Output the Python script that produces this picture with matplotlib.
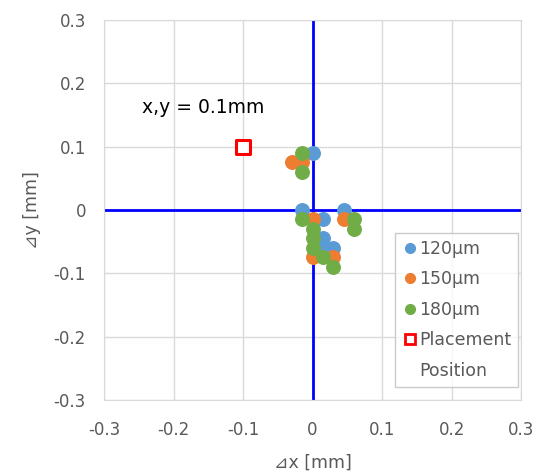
import numpy as np
import matplotlib.pyplot as plt
from matplotlib.lines import Line2D

plt.rcParams['font.family'] = ['DejaVu Sans', 'Noto Sans CJK JP']

# measured offsets [mm]
x_120 = [0, -0.015, 0.015, 0.045, 0.015, 0.015, 0.03]
y_120 = [0.09, 0, -0.015, 0, -0.045, -0.06, -0.06]

x_150 = [-0.03, -0.015, 0, 0.045, 0, 0.03]
y_150 = [0.075, 0.075, -0.015, -0.015, -0.075, -0.075]

x_180 = [-0.015, -0.015, -0.015, 0.06, 0.06, 0, 0, 0, 0.015, 0.03]
y_180 = [0.09, 0.06, -0.015, -0.015, -0.03, -0.03, -0.045, -0.06, -0.075, -0.09]

place_x = [-0.1]
place_y = [0.1]

ticks = [-0.3, -0.2, -0.1, 0, 0.1, 0.2, 0.3]
tick_labels = ['-0.3', '-0.2', '-0.1', '0', '0.1', '0.2', '0.3']

fig = plt.figure(figsize=(5.39, 4.76), dpi=100)
ax = fig.add_axes([0.193, 0.160, 0.774, 0.798])

ax.set_xlim(-0.3, 0.3)
ax.set_ylim(-0.3, 0.3)
ax.set_xticks(ticks)
ax.set_xticklabels(tick_labels)
ax.set_yticks(ticks)
ax.set_yticklabels(tick_labels)
ax.grid(True, color='#d9d9d9', linewidth=1)
ax.set_axisbelow(True)
for s in ax.spines.values():
    s.set_color('#d9d9d9')
ax.tick_params(length=0, labelsize=12, colors='#595959')
ax.tick_params(axis='x', pad=15)
ax.tick_params(axis='y', pad=13)

# zero lines
ax.axhline(0, color='#0000ff', linewidth=2, zorder=1.5)
ax.axvline(0, color='#0000ff', linewidth=2, zorder=1.5)

ax.scatter(x_120, y_120, s=95, color='#5b9bd5', zorder=3)
ax.scatter(x_150, y_150, s=95, color='#ed7d31', zorder=3)
ax.scatter(x_180, y_180, s=95, color='#70ad47', zorder=3)
ax.scatter(place_x, place_y, s=100, marker='s', facecolor='white', edgecolor='#ff0000',
           linewidth=2.2, zorder=3)

ax.text(-0.245, 0.161, 'x,y = 0.1mm', fontsize=13.5, color='black', va='center')

ax.set_xlabel('⊿x [mm]', fontsize=12.5, color='#595959', labelpad=11)
ax.set_ylabel('⊿y [mm]', fontsize=12.5, color='#595959', labelpad=9)

handles = [
    Line2D([], [], ls='', marker='o', ms=7, color='#5b9bd5'),
    Line2D([], [], ls='', marker='o', ms=7, color='#ed7d31'),
    Line2D([], [], ls='', marker='o', ms=7, color='#70ad47'),
    Line2D([], [], ls='', marker='s', ms=7, mfc='white', mec='#ff0000', mew=2),
    Line2D([], [], ls='', marker=''),
]
labels = ['120µm', '150µm', '180µm', 'Placement', 'Position']
leg = ax.legend(handles, labels, loc='lower right', bbox_to_anchor=(0.993, 0.034),
                fontsize=12.5, frameon=True, fancybox=False, edgecolor='#bfbfbf',
                handletextpad=0.1, borderpad=0.4, labelspacing=0.72, handlelength=0.9,
                borderaxespad=0)
for t in leg.get_texts():
    t.set_color('#595959')
leg.get_frame().set_linewidth(1)

plt.savefig('out.png', dpi=100)
